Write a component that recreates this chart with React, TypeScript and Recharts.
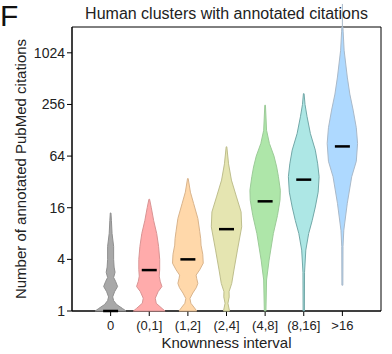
import React from "react"
import {
  ComposedChart,
  Scatter,
  XAxis,
  YAxis,
  ReferenceArea,
  ReferenceLine,
} from "recharts"

// Knownness intervals on the x axis
const categories = ["0", "(0,1]", "(1,2]", "(2,4]", "(4,8]", "(8,16]", ">16"]

// median number of annotated citations per interval
const medians = [1, 3, 4, 9, 19, 34, 83]

const yTicks = [1, 4, 16, 64, 256, 1024]

// kernel density profiles: citation counts and relative density at each count
const countsZero = [1, 1.07, 1.19, 1.32, 1.46, 1.68, 1.93, 2.22, 2.46, 2.83, 3.25, 4, 5.66, 8, 11.3, 13.9]
const densityZero = [0.97, 0.75, 0.38, 0.19, 0.13, 0.25, 0.44, 0.31, 0.19, 0.28, 0.22, 0.19, 0.19, 0.09, 0.05, 0.02]

const countsOne = [1, 1.07, 1.23, 1.41, 1.68, 1.93, 2.22, 2.55, 3.03, 4, 5.66, 8, 11.3, 16, 20.1]
const densityOne = [1.0, 0.81, 0.44, 0.38, 0.56, 0.8, 0.69, 0.63, 0.66, 0.66, 0.59, 0.47, 0.28, 0.13, 0.02]

const countsTwo = [1, 1.11, 1.23, 1.4, 1.62, 1.87, 2.1, 2.38, 2.62, 3.03, 3.61, 4.59, 5.86, 6.96, 8.4, 12.0, 18.0, 24.3, 35.0]
const densityTwo = [0.56, 0.38, 0.19, 0.13, 0.31, 0.53, 0.63, 0.56, 0.52, 0.75, 0.97, 0.94, 0.83, 0.81, 0.75, 0.63, 0.36, 0.16, 0.02]

const countsFour = [1, 1.23, 1.46, 1.68, 2.1, 3.01, 5.13, 9.58, 14.3, 21.4, 33.6, 52.0, 82.1]
const densityFour = [0.19, 0.09, 0.17, 0.16, 0.33, 0.47, 0.69, 0.96, 0.92, 0.63, 0.31, 0.13, 0.02]

const countsEight = [1, 2.3, 3.92, 8, 13.0, 19.6, 25.6, 36.8, 47.8, 64, 89.9, 128, 251]
const densityEight = [0.05, 0.09, 0.25, 0.52, 0.78, 0.94, 0.96, 0.84, 0.73, 0.56, 0.27, 0.09, 0.02]

const countsSixteen = [1, 2.83, 5.13, 8, 11.3, 16.3, 24.3, 36.8, 52.0, 75.1, 117, 184, 256, 342]
const densitySixteen = [0.04, 0.05, 0.13, 0.31, 0.53, 0.73, 0.91, 0.97, 0.88, 0.73, 0.42, 0.21, 0.08, 0.02]

const countsAbove = [2, 5.66, 8.75, 18.0, 36.8, 55.7, 89.9, 137, 220, 338, 534, 1097, 1800, 2048]
const densityAbove = [0.03, 0.04, 0.09, 0.31, 0.59, 0.88, 0.96, 0.88, 0.68, 0.47, 0.31, 0.11, 0.05, 0.03]
// the >16 whisker runs on past the top of the axis
const aboveWhiskerTop = 3800

const profiles = [
  [countsZero, densityZero],
  [countsOne, densityOne],
  [countsTwo, densityTwo],
  [countsFour, densityFour],
  [countsEight, densityEight],
  [countsSixteen, densitySixteen],
  [countsAbove, densityAbove],
]

const fills = ["#a8a8a8", "#ffabab", "#ffd8aa", "#e5e5b1", "#aee6a9", "#ade7e5", "#aed9ff"]
const strokes = ["#8f8f8f", "#d99494", "#d9b48c", "#bebe8c", "#9ccb98", "#72a8a8", "#a9b9c9"]

const HALF_WIDTH = 0.41

// outline of a violin: up the left side, down the right side, back to start
function violinOutline(center: number, counts: number[], density: number[]) {
  const left = counts.map((c, i) => ({ x: center - density[i] * HALF_WIDTH, y: c }))
  const right = counts.map((c, i) => ({ x: center + density[i] * HALF_WIDTH, y: c })).reverse()
  return [...left, ...right, left[0]]
}

const medianData = medians.map((m, i) => ({ x: i + 1, y: m }))

const Empty = () => <g />

const MedianBar = (props: any) => {
  const { cx, cy } = props
  return <line x1={cx - 7.5} x2={cx + 7.5} y1={cy} y2={cy} stroke="#000" strokeWidth={2.5} />
}

const YLabel = (props: any) => {
  const { viewBox } = props
  const cy = viewBox.y + viewBox.height / 2
  return (
    <text
      x={20}
      y={cy}
      transform={`rotate(-90, 20, ${cy})`}
      textAnchor="middle"
      dominantBaseline="central"
      fontSize={15}
      fill="#222"
    >
      Number of annotated PubMed citations
    </text>
  )
}

export default function App() {
  const font = "'Liberation Sans', Arial, sans-serif"
  return (
    <div style={{ position: "absolute", left: 0, top: 0, width: 392, height: 354, fontFamily: font, background: "#fff" }}>
      <div style={{ position: "absolute", left: 0, top: 1, fontSize: 30, lineHeight: "30px", color: "#111" }}>F</div>
      <ComposedChart width={392} height={354} margin={{ top: 27, right: 11, bottom: 0, left: 0 }} style={{ fontFamily: font }}>
        <XAxis
          type="number"
          dataKey="x"
          domain={[0, 8]}
          ticks={[1, 2, 3, 4, 5, 6, 7]}
          interval={0}
          tickFormatter={(v: number) => categories[v - 1]}
          height={43}
          tickSize={5}
          tickMargin={5}
          stroke="#000"
          tick={{ fill: "#222", fontSize: 13 }}
          label={{ value: "Knownness interval", position: "insideBottom", offset: 6.5, fontSize: 15, fill: "#222" }}
        />
        <YAxis
          type="number"
          dataKey="y"
          scale="log"
          domain={[1, 2048]}
          ticks={yTicks}
          interval={0}
          width={72}
          tickSize={5}
          stroke="#000"
          tick={{ fill: "#222", fontSize: 14 }}
          label={<YLabel />}
        />
        <ReferenceArea
          x1={0}
          x2={8}
          y1={1}
          y2={2048}
          fill="none"
          stroke="#000"
          strokeWidth={1}
          label={{ value: "Human clusters with annotated citations", position: "top", offset: 8.5, fontSize: 16, fill: "#222" }}
        />
        {profiles.map(([counts, density], i) => (
          <Scatter
            key={categories[i]}
            data={violinOutline(i + 1, counts, density)}
            line={{ fill: fills[i], stroke: strokes[i], strokeWidth: 1 }}
            lineType="joint"
            shape={Empty}
            isAnimationActive={false}
          />
        ))}
        <ReferenceLine
          segment={[
            { x: 7, y: 2048 },
            { x: 7, y: aboveWhiskerTop },
          ]}
          ifOverflow="visible"
          stroke={strokes[6]}
          strokeWidth={1}
        />
        <Scatter data={medianData} shape={MedianBar} isAnimationActive={false} />
      </ComposedChart>
    </div>
  )
}
